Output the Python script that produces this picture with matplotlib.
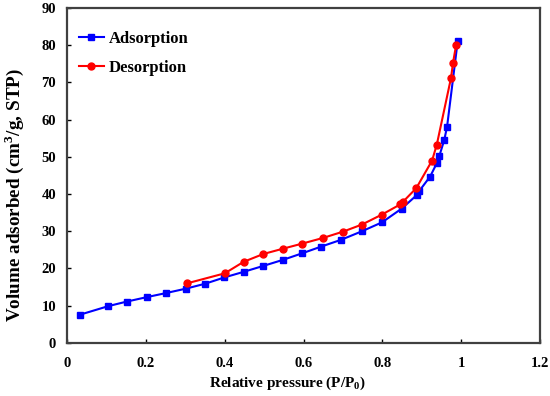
import matplotlib
matplotlib.use("Agg")
import matplotlib.pyplot as plt

plt.rcParams['font.family'] = ['Liberation Serif', 'DejaVu Serif']
plt.rcParams['font.weight'] = 'bold'
plt.rcParams['mathtext.fontset'] = 'custom'
plt.rcParams['mathtext.rm'] = 'Liberation Serif:bold'

ads_x = [0.033, 0.105, 0.151, 0.202, 0.251, 0.302, 0.350, 0.399, 0.448, 0.498, 0.547,
         0.597, 0.645, 0.695, 0.748, 0.799, 0.849, 0.888, 0.894, 0.921, 0.938, 0.944,
         0.957, 0.964, 0.991]
ads_y = [7.6, 9.9, 11.1, 12.3, 13.4, 14.6, 15.9, 17.6, 19.1, 20.7, 22.3,
         24.1, 25.9, 27.7, 30.0, 32.4, 36.1, 39.8, 40.9, 44.7, 48.3, 50.1,
         54.6, 58.1, 81.1]
des_x = [0.304, 0.400, 0.448, 0.498, 0.547, 0.597, 0.649, 0.700, 0.748, 0.799, 0.845,
         0.852, 0.886, 0.926, 0.938, 0.974, 0.979, 0.987]
des_y = [16.0, 18.7, 21.8, 23.9, 25.3, 26.7, 28.2, 29.9, 31.8, 34.5, 37.2,
         37.9, 41.6, 49.0, 53.3, 71.2, 75.2, 80.1]

x_ticks = [0, 0.2, 0.4, 0.6, 0.8, 1.0, 1.2]
x_labels = ['0', '0.2', '0.4', '0.6', '0.8', '1', '1.2']
y_ticks = [0, 10, 20, 30, 40, 50, 60, 70, 80, 90]

fig = plt.figure(figsize=(5.5, 3.96), dpi=100)
ax = fig.add_axes([0.122, 0.134, 0.860, 0.846])

ax.plot(ads_x, ads_y, color='#0000FF', marker='s', markersize=4.5, linewidth=1.5,
        label='Adsorption')
ax.plot(des_x, des_y, color='#FF0000', marker='o', markersize=5, linewidth=1.5,
        label='Desorption')

ax.set_xlim(0, 1.2)
ax.set_ylim(0, 90)
ax.set_xticks(x_ticks)
ax.set_xticklabels(x_labels)
ax.set_yticks(y_ticks)
ax.tick_params(direction='in', length=3, width=1, labelsize=10.5, colors='black')
ax.tick_params(axis='x', pad=10)
ax.tick_params(axis='y', pad=8)
for s in ax.spines.values():
    s.set_linewidth(1.6)
    s.set_color('#404040')

ax.set_xlabel('Relative pressure (P/P$_\\mathregular{0}$)', fontsize=11, fontweight='bold')
ax.xaxis.set_label_coords(0.466, -0.095)
ax.set_ylabel('Volume adsorbed (cm$^\\mathregular{3}$/g, STP)', fontsize=13.8,
              fontweight='bold')
ax.yaxis.set_label_coords(-0.086, 0.442)

leg = ax.legend(loc='upper left', frameon=False, fontsize=12, handlelength=1.5,
                handletextpad=0.3, borderaxespad=0.3, labelspacing=0.75,
                bbox_to_anchor=(0.0, 0.965))

fig.savefig('out.png', dpi=100)
